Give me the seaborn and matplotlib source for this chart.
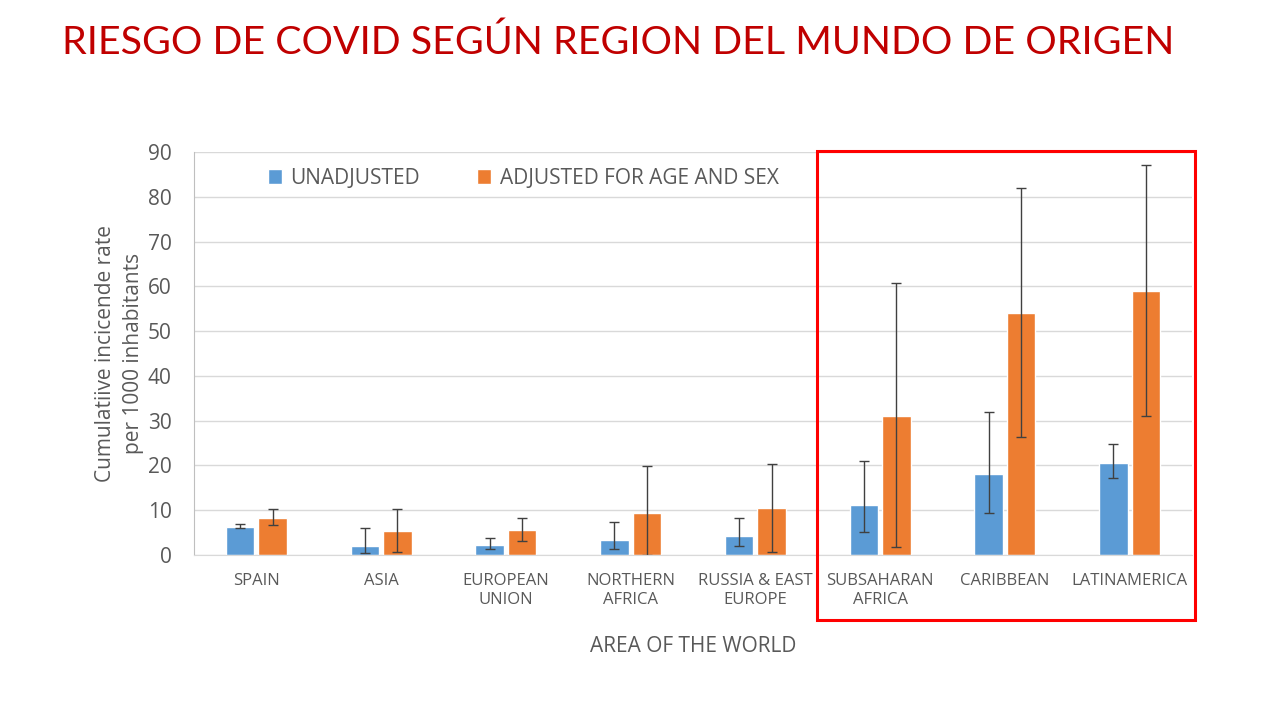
import numpy as np
import pandas as pd
import seaborn as sns
import matplotlib.pyplot as plt
from matplotlib.patches import Rectangle

sns.set_style('white')
plt.rcParams['font.family'] = ['Open Sans', 'DejaVu Sans']

# values
areas = ['SPAIN', 'ASIA', 'EUROPEAN\nUNION', 'NORTHERN\nAFRICA', 'RUSSIA & EAST\nEUROPE',
         'SUBSAHARAN\nAFRICA', 'CARIBBEAN', 'LATINAMERICA']
series = ['UNADJUSTED', 'ADJUSTED FOR AGE AND SEX']
unadj = [6.3, 2.0, 2.2, 3.4, 4.2, 11.2, 18.1, 20.5]
unadj_lo = [6.0, 0.4, 1.3, 1.3, 1.9, 5.1, 9.3, 17.1]
unadj_hi = [6.9, 6.0, 3.7, 7.3, 8.2, 21.1, 31.9, 24.7]
adj = [8.3, 5.4, 5.6, 9.4, 10.5, 31.0, 54.0, 59.0]
adj_lo = [6.6, 0.6, 3.1, 0.0, 0.6, 1.7, 26.3, 31.0]
adj_hi = [10.2, 10.2, 8.2, 19.8, 20.3, 60.7, 81.9, 87.1]
yticks = [0, 10, 20, 30, 40, 50, 60, 70, 80, 90]

colors = ['#5B9BD5', '#ED7D31']
txt = '#595959'

df = pd.DataFrame({
    'area': areas * 2,
    'series': [series[0]] * len(areas) + [series[1]] * len(areas),
    'value': unadj + adj,
})

fig = plt.figure(figsize=(12.8, 7.2), dpi=100)
ax = fig.add_axes([194/1280, 1-555/720, (1192-194)/1280, (555-152)/720])

sns.barplot(data=df, x='area', y='value', hue='series', order=areas, hue_order=series,
            palette=colors, width=0.52, gap=0.12, errorbar=None, saturation=1, ax=ax)

# asymmetric confidence intervals on top of the bars
bars = [p for p in ax.patches if p.get_height() > 0]
xs = sorted([b.get_x() + b.get_width()/2 for b in bars])
xs_unadj = xs[0::2]
xs_adj = xs[1::2]
for xx, v, lo, hi in [(xs_unadj, unadj, unadj_lo, unadj_hi), (xs_adj, adj, adj_lo, adj_hi)]:
    v = np.array(v)
    ax.errorbar(xx, v, yerr=[v - np.array(lo), np.array(hi) - v], fmt='none',
                ecolor='#404040', elinewidth=1, capsize=3.5, capthick=1)

ax.set_ylim(0, 90)
ax.set_xlim(-0.5, len(areas) - 0.5)
ax.set_yticks(yticks)
ax.yaxis.grid(True, color='#d9d9d9', linewidth=1)
ax.set_axisbelow(True)
for s in ['top', 'right']:
    ax.spines[s].set_visible(False)
ax.spines['left'].set_color('#bfbfbf')
ax.spines['bottom'].set_color('#d9d9d9')
ax.tick_params(axis='both', length=0)
ax.tick_params(axis='y', labelsize=15, labelcolor=txt, pad=16)
ax.tick_params(axis='x', labelsize=12, labelcolor=txt, pad=13)
for lab in ax.get_xticklabels():
    lab.set_linespacing(1.25)

ax.set_xlabel('AREA OF THE WORLD', fontsize=15, color=txt, labelpad=20)
ax.set_ylabel('Cumulatiive incicende rate\nper 1000 inhabitants', fontsize=15, color=txt,
              labelpad=3, linespacing=1.4)

leg = ax.legend(loc='upper left', bbox_to_anchor=(0.055, 1.007), ncol=2, frameon=False,
                fontsize=15, handlelength=0.68, handleheight=0.68, columnspacing=2.75,
                handletextpad=0.4)
for t in leg.get_texts():
    t.set_color(txt)

fig.text(62/1280, 1-43/720, 'RIESGO DE COVID SEGÚN REGION DEL MUNDO DE ORIGEN',
         fontsize=28.4, color='#C00000', family=['Lato', 'DejaVu Sans'], va='center', ha='left')

fig.patches.append(Rectangle((817/1280, 1-620/720), (1195-817)/1280, (620-151)/720,
                             transform=fig.transFigure, fill=False, edgecolor='#FF0000',
                             linewidth=2.2))

fig.savefig('out.png', dpi=100)
